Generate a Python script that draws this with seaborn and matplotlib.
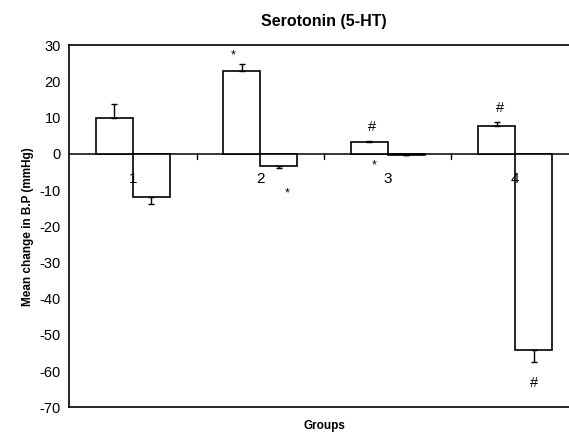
import numpy as np
import pandas as pd
import matplotlib
matplotlib.use("Agg")
import matplotlib.pyplot as plt
import seaborn as sns

# data
groups = ["1", "2", "3", "4"]
series = ["A", "B"]
vals_a = [10.0, 22.8, 3.4, 7.6]
vals_b = [-11.8, -3.4, -0.3, -54.3]
err_a = [3.7, 2.0, 0.2, 1.2]
err_b = [2.0, 0.4, 0.0, 3.3]
yticks = [30, 20, 10, 0, -10, -20, -30, -40, -50, -60, -70]
# significance marks: (x, y, text) in data coords
marks = [(0.79, 27.3, "*"), (1.21, -10.9, "*"), (1.88, 7.5, "#"),
         (1.89, -3.3, "*"), (2.88, 12.6, "#"), (3.15, -63.3, "#")]

sns.set_style("white")
plt.rcParams['font.family'] = ['Liberation Sans', 'DejaVu Sans']
plt.rcParams['axes.unicode_minus'] = False
plt.rcParams['text.color'] = 'black'
plt.rcParams['axes.labelcolor'] = 'black'
plt.rcParams['ytick.color'] = 'black'
plt.rcParams['xtick.color'] = 'black'

df = pd.DataFrame({
    "group": groups * 2,
    "series": ["A"] * 4 + ["B"] * 4,
    "value": vals_a + vals_b,
})

fig = plt.figure(figsize=(5.69, 4.34), dpi=100)
ax = fig.add_axes([69 / 569, 26.7 / 434, 510 / 569, 362 / 434])

sns.barplot(data=df, x="group", y="value", hue="series", order=groups,
            hue_order=series, width=0.58, palette=["white", "white"],
            edgecolor="black", linewidth=1.2, errorbar=None, legend=False, ax=ax)

# one sided error bars
for cont, vals, errs in zip(ax.containers, [vals_a, vals_b], [err_a, err_b]):
    xs = [p.get_x() + p.get_width() / 2 for p in cont.patches]
    lo = [e if v < 0 else 0 for v, e in zip(vals, errs)]
    hi = [e if v >= 0 else 0 for v, e in zip(vals, errs)]
    ax.errorbar(xs, vals, yerr=[lo, hi], fmt="none", ecolor="black",
                elinewidth=1.0, capsize=2.5, capthick=1.0)

ax.set_xlim(-0.5, 3.5)
ax.set_ylim(-70, 30)
ax.set_yticks(yticks)
ax.set_yticklabels([str(t) for t in yticks], fontsize=10.5, color="black")
ax.tick_params(axis="y", direction="out", length=4.3, width=1, color="black", pad=1.5)
ax.set_xticks([])
ax.set_xlabel("Groups", fontsize=8.5, fontweight="bold", labelpad=9, color="black")
ax.set_ylabel("Mean change in B.P (mmHg)", fontsize=8.5, fontweight="bold", labelpad=4, color="black")
ax.set_title("Serotonin (5-HT)", fontsize=11.5, fontweight="bold", pad=14, color="black")

# zero line with category ticks
ax.axhline(0, color="black", lw=1.1, zorder=0.5)
for b in [0.5, 1.5, 2.5]:
    ax.plot([b, b], [0, -1.3], color="black", lw=1)
for i, g in enumerate(groups):
    ax.text(i, -7, g, ha="center", va="center", fontsize=11, color="black")

for x, y, t in marks:
    ax.text(x, y, t, ha="center", va="center", color="black",
            fontsize=10.5 if t == "#" else 9)

for s in ["left", "top", "bottom"]:
    ax.spines[s].set_visible(True)
    ax.spines[s].set_color("black")
    ax.spines[s].set_linewidth(1.2)

fig.savefig("out.png", dpi=100)
